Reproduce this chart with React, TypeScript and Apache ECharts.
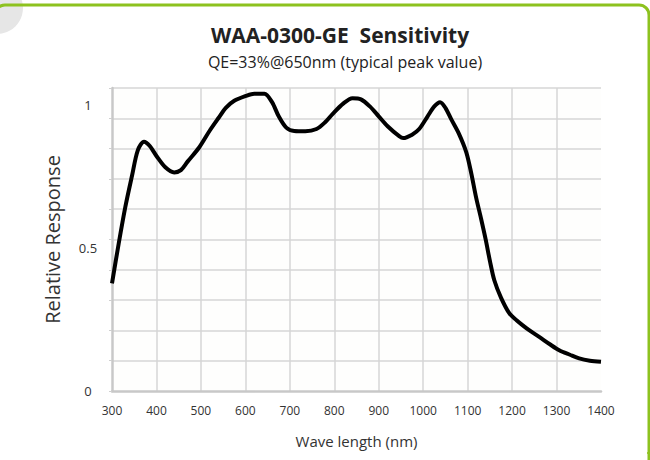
import React, { useEffect, useRef } from "react";
import * as echarts from "echarts";

const titleText = "WAA-0300-GE  Sensitivity";
const subtitleText = "QE=33%@650nm (typical peak value)";
const xName = "Wave length (nm)";
const yName = "Relative Response";

const wavelength = [
  300, 315, 330, 345, 358, 372, 385, 400, 420, 440, 455, 470, 496, 520, 540, 556,
  575, 601, 620, 643, 660, 675, 692, 710, 735, 760, 780, 796, 820, 841, 860, 880,
  900, 920, 946, 955, 975, 991, 1010, 1025, 1038, 1050, 1063, 1080, 1097, 1108,
  1119, 1130, 1141, 1150, 1160, 1175, 1194, 1210, 1224, 1240, 1261, 1285, 1306,
  1330, 1351, 1375, 1400,
];
const response = [
  0.38, 0.52, 0.65, 0.76, 0.85, 0.88, 0.865, 0.83, 0.79, 0.772, 0.78, 0.81, 0.86,
  0.92, 0.965, 1.0, 1.025, 1.042, 1.05, 1.05, 1.02, 0.97, 0.93, 0.918, 0.917,
  0.925, 0.95, 0.978, 1.015, 1.034, 1.03, 1.005, 0.97, 0.935, 0.9, 0.893, 0.905,
  0.925, 0.97, 1.005, 1.02, 1.0, 0.96, 0.91, 0.843, 0.77, 0.684, 0.61, 0.532,
  0.46, 0.391, 0.33, 0.274, 0.25, 0.232, 0.213, 0.191, 0.165, 0.144, 0.128,
  0.115, 0.107, 0.103,
];
const yTickLabels = ["0", "0.5", "1"];
const xMin = 300;
const xMax = 1400;
const xStep = 100;
const yMax = 1.07;
const yGridStep = 0.107;
const yLabelMax = 1.06;
const yLabelStep = 0.5;

export default function App() {
  const ref = useRef<HTMLDivElement>(null);
  useEffect(() => {
    if (!ref.current) return;
    const chart = echarts.init(ref.current, null, { renderer: "svg" });
    const font = "'Open Sans', 'Noto Sans', sans-serif";
    const data = wavelength.map((w, i) => [w, response[i]]);
    chart.setOption({
      animation: false,
      backgroundColor: "#ffffff",
      textStyle: { fontFamily: font },
      title: [
        {
          text: titleText,
          left: 335,
          top: 19,
          textAlign: "center",
          textStyle: { fontSize: 21, fontWeight: "bold", color: "#222", fontFamily: font },
        },
        {
          text: subtitleText,
          left: 340,
          top: 49,
          textAlign: "center",
          textStyle: { fontSize: 16, fontWeight: "normal", color: "#222", fontFamily: font },
        },
      ],
      grid: {
        left: 112,
        right: 49,
        top: 88,
        bottom: 69,
        show: true,
        backgroundColor: "#fefefd",
        borderWidth: 0,
      },
      xAxis: {
        type: "value",
        min: xMin,
        max: xMax,
        interval: xStep,
        name: xName,
        nameLocation: "middle",
        nameGap: 42,
        nameTextStyle: { fontSize: 15, color: "#333", fontFamily: font },
        axisLine: { show: true, lineStyle: { color: "#c8c8c8", width: 2.5 } },
        axisTick: { show: false },
        axisLabel: {
          margin: 13,
          fontSize: 12,
          color: "#333",
          fontFamily: font,
          formatter: (v: number) => String(v),
        },
        splitLine: {
          show: true,
          showMinLine: false,
          showMaxLine: false,
          lineStyle: { color: "#d6d6d6", width: 1.5 },
        },
      },
      yAxis: [
        {
          type: "value",
          min: 0,
          max: yMax,
          interval: yGridStep,
          position: "left",
          axisLine: { show: true, lineStyle: { color: "#c8c8c8", width: 2.5 } },
          axisTick: { show: true, length: 3, lineStyle: { color: "#cfcfcf" } },
          axisLabel: { show: false },
          splitLine: {
            show: true,
            showMinLine: false,
            lineStyle: { color: "#d6d6d6", width: 1.5 },
          },
        },
        {
          type: "value",
          min: 0,
          max: yLabelMax,
          interval: yLabelStep,
          position: "left",
          name: yName,
          nameLocation: "middle",
          nameGap: 50,
          nameTextStyle: { fontSize: 20, color: "#333", fontFamily: font },
          axisLine: { show: false },
          axisTick: { show: false },
          splitLine: { show: false },
          axisLabel: {
            margin: 24,
            align: "center",
            fontSize: 13,
            color: "#333",
            fontFamily: font,
            showMaxLabel: false,
            formatter: (v: number) => {
              const idx = Math.round(v / yLabelStep);
              return Math.abs(v - idx * yLabelStep) < 1e-6 && idx < yTickLabels.length
                ? yTickLabels[idx]
                : "";
            },
          },
        },
      ],
      series: [
        {
          type: "line",
          yAxisIndex: 0,
          data,
          smooth: 0.3,
          showSymbol: false,
          lineStyle: { color: "#000", width: 4 },
        },
      ],
      graphic: [
        {
          type: "circle",
          shape: { cx: -3, cy: 8, r: 26 },
          style: { fill: "#e6e6e6" },
          z: 0,
        },
        {
          type: "rect",
          shape: { x: -5, y: 5, width: 654, height: 600, r: 10 },
          style: { fill: "none", stroke: "#8dc21f", lineWidth: 3 },
          z: 1,
        },
        {
          type: "rect",
          shape: { x: 647, y: 452, width: 2, height: 2 },
          style: { fill: "#a8c84a" },
        },
      ],
    });
    return () => chart.dispose();
  }, []);
  return (
    <div
      ref={ref}
      style={{ position: "fixed", left: 0, top: 0, width: 650, height: 460 }}
    />
  );
}
